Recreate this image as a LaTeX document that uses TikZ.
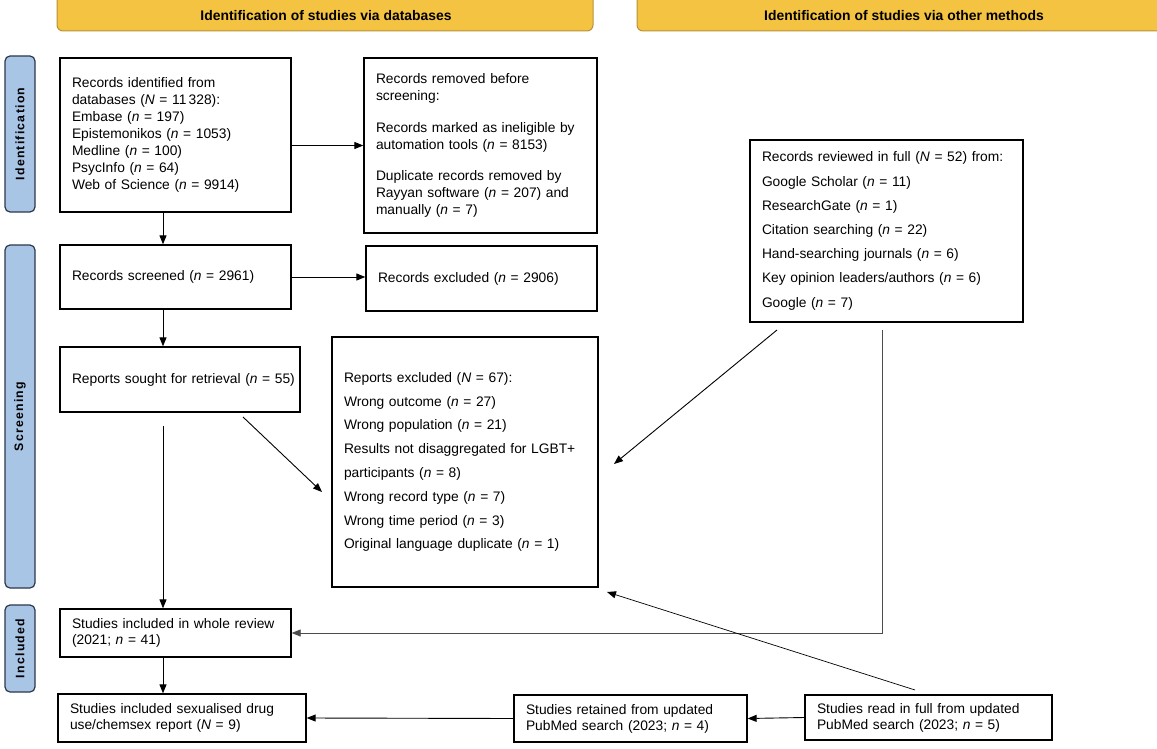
\documentclass[tikz,border=0pt]{standalone}
\usepackage{fontspec}
\setmainfont{Liberation Sans}
\newfontfamily\sidefont[LetterSpace=10]{Liberation Sans}
\usetikzlibrary{arrows.meta}
\definecolor{hdrfill}{RGB}{245,195,66}
\definecolor{hdrline}{RGB}{185,145,55}
\definecolor{sidefill}{RGB}{168,197,230}
\definecolor{sideline}{RGB}{45,55,75}
\begin{document}
\begin{tikzpicture}[x=1pt,y=-1pt,
  box/.style={draw, line width=1.3pt, align=left, inner xsep=12pt, inner ysep=0pt, font=\fontsize{13.8}{17}\selectfont},
  hdr/.style={fill=hdrfill, draw=hdrline, line width=1pt, rounded corners=6pt},
  hdrtext/.style={font=\bfseries\fontsize{13.9}{16}\selectfont},
  side/.style={draw=sideline, fill=sidefill, line width=1.2pt, rounded corners=5pt, minimum height=30pt, inner sep=0pt, rotate=90, font=\sidefont\bfseries\fontsize{12.3}{14}\selectfont},
  conn/.style={line width=0.9pt, -{Triangle[length=9pt,width=7pt]}},
  ]
\useasboundingbox (0,0) rectangle (1157,749);

% headers
\path[hdr] (57,-12) rectangle (593,31);
\node[hdrtext] (h1) at (326,16) {Identification of studies via databases};
\path[hdr] (637,-12) rectangle (1170,31);
\node[hdrtext] (h2) at (904,16) {Identification of studies via other methods};

% side bars
\node[side, minimum width=156pt] (sid) at (20,134) {Identification};
\node[side, minimum width=343pt] (sscr) at (20,416.5) {Screening};
\node[side, minimum width=87pt] (sinc) at (20,648.5) {Included};

% boxes
\node[box, minimum width=231pt, text width=207pt, minimum height=154pt] (A) at (175.5,135)
 {Records identified from\\ databases (\textit{N} = 11\,328):\\ Embase (\textit{n} = 197)\\ Epistemonikos (\textit{n} = 1053)\\ Medline (\textit{n} = 100)\\ PsycInfo (\textit{n} = 64)\\ Web of Science (\textit{n} = 9914)};
\node[box, minimum width=233pt, text width=209pt, minimum height=175pt] (B) at (480.5,145.5)
 {Records removed before\\ screening:\\[15pt] Records marked as ineligible by\\ automation tools (\textit{n} = 8153)\\[14pt] Duplicate records removed by\\ Rayyan software (\textit{n} = 207) and\\ manually (\textit{n} = 7)};
\node[box, minimum width=231pt, text width=207pt, minimum height=64pt] (C) at (175.5,277)
 {Records screened (\textit{n} = 2961)};
\node[box, minimum width=231pt, text width=207pt, minimum height=65pt] (D) at (481.5,278.5)
 {Records excluded (\textit{n} = 2906)};
\node[box, minimum width=240pt, text width=216pt, minimum height=65pt] (E) at (180,379.5)
 {\mbox{Reports sought for retrieval (\textit{n} = 55)}};
\node[box, minimum width=266pt, text width=242pt, minimum height=250pt, font=\fontsize{13.8}{23.8}\selectfont] (F) at (465,462)
 {Reports excluded (\textit{N} = 67):\\ Wrong outcome (\textit{n} = 27)\\ Wrong population (\textit{n} = 21)\\ Results not disaggregated for LGBT+\\ participants (\textit{n} = 8)\\ Wrong record type (\textit{n} = 7)\\ Wrong time period (\textit{n} = 3)\\ Original language duplicate (\textit{n} = 1)};
\node[box, minimum width=273pt, text width=249pt, minimum height=182pt, font=\fontsize{13.8}{24.2}\selectfont] (G) at (886.5,231)
 {Records reviewed in full (\textit{N} = 52) from:\\ Google Scholar (\textit{n} = 11)\\ ResearchGate (\textit{n} = 1)\\ Citation searching (\textit{n} = 22)\\ Hand-searching journals (\textit{n} = 6)\\ Key opinion leaders/authors (\textit{n} = 6)\\ Google (\textit{n} = 7)};
\node[box, minimum width=231pt, text width=207pt, minimum height=48pt, font=\fontsize{13.8}{16}\selectfont] (H) at (175.5,633)
 {Studies included in whole review\\ (2021; \textit{n} = 41)};
\node[box, minimum width=248pt, text width=224pt, minimum height=48pt, font=\fontsize{13.8}{16}\selectfont] (I) at (182,718)
 {Studies included sexualised drug\\ use/chemsex report (\textit{N} = 9)};
\node[box, minimum width=233pt, text width=209pt, minimum height=47pt, font=\fontsize{13.8}{16}\selectfont] (J) at (630.5,718.5)
 {Studies retained from updated\\ PubMed search (2023; \textit{n} = 4)};
\node[box, minimum width=247pt, text width=223pt, minimum height=45pt, font=\fontsize{13.8}{16}\selectfont] (K) at (928.5,717.5)
 {Studies read in full from updated\\ PubMed search (2023; \textit{n} = 5)};

% helper coordinates
\coordinate (spine) at (163,0);
\coordinate (e1) at (163,426);
\coordinate (ef1) at (243,417);
\coordinate (ef2) at (322,492);
\coordinate (gf1) at (777,330);
\coordinate (gf2) at (614,464);
\coordinate (gh1) at (882,330);
\coordinate (kf1) at (915,690);
\coordinate (kf2) at (607,592);

% connectors
\draw[conn] (A.east |- B.west) -- (B.west);
\draw[conn] (A.south -| spine) -- (C.north -| spine);
\draw[conn] (C.east) -- (C.east -| D.west);
\draw[conn] (C.south -| spine) -- (E.north -| spine);
\draw[conn] (e1) -- (H.north -| spine);
\draw[conn] (ef1) -- (ef2);
\draw[conn] (gf1) -- (gf2);
\draw[conn, draw=black!70, line width=0.8pt] (gh1) |- (H.east);
\draw[conn, line width=0.7pt] (kf1) -- (kf2);
\draw[conn] (K.west) -- (J.east);
\draw[conn] (J.west) -- (I.east);
\draw[conn] (H.south -| spine) -- (I.north -| spine);
\end{tikzpicture}
\end{document}
